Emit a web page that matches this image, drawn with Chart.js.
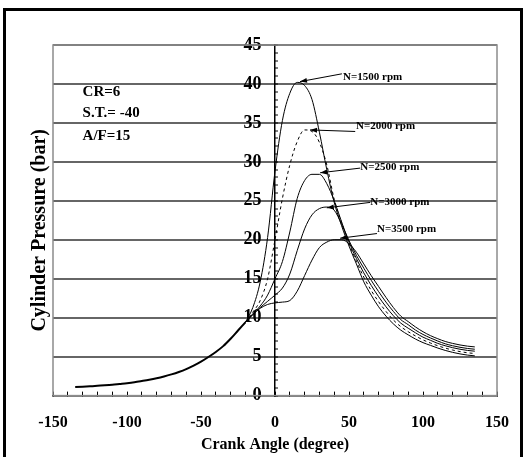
<!DOCTYPE html>
<html><head><meta charset="utf-8">
<script src="https://cdn.jsdelivr.net/npm/chart.js@4"></script>
<style>html,body{margin:0;padding:0;background:#fff}canvas{display:block}</style>
</head><body>
<canvas id="c" width="532" height="457"></canvas>
<script>
// ---- data ----
const compressionAngles = [-135,-130,-125,-120,-115,-110,-105,-100,-95,-90,-85,-80,-75,-70,-65,-60,-55,-50,-45,-40,-35,-30,-25,-20];
const compressionPressure = [1.1,1.15,1.2,1.25,1.32,1.4,1.5,1.6,1.72,1.87,2.03,2.22,2.45,2.72,3.03,3.4,3.85,4.35,4.95,5.6,6.35,7.3,8.35,9.4];

const combustionAngles = [-20,-15,-10,-5,0,5,10,15,20,25,30,35,40,45,50,55,60,65,70,75,80,85,90,95,100,105,110,115,120,125,130,135];
const p1500 = [9.4,11.3,14.6,20.3,28.8,35.3,38.8,40.2,39.8,38.0,33.8,29.0,24.8,21.8,19.2,16.9,14.6,12.9,11.4,10.2,9.2,8.4,7.8,7.25,6.8,6.45,6.1,5.8,5.55,5.35,5.2,5.1];
const p2000 = [9.4,10.7,12.2,15.0,20.0,25.3,29.6,32.6,34.1,33.9,32.5,29.6,25.2,22.2,19.5,17.25,15.2,13.5,12.05,10.8,9.7,8.85,8.2,7.65,7.15,6.75,6.4,6.1,5.85,5.65,5.5,5.4];
const p2500 = [9.4,10.5,11.5,12.9,15.0,17.2,21.0,25.3,27.6,28.4,28.4,27.2,25.0,22.3,19.7,17.6,15.75,14.15,12.7,11.4,10.25,9.3,8.65,8.05,7.5,7.1,6.7,6.4,6.15,5.95,5.8,5.7];
const p3000 = [9.4,10.4,11.3,12.1,12.9,13.8,15.6,18.6,21.4,23.2,24.0,24.2,23.8,22.0,19.9,18.0,16.35,14.8,13.35,12.0,10.8,9.75,9.1,8.4,7.85,7.4,7.0,6.65,6.4,6.2,6.05,5.95];
const p3500 = [9.4,10.4,11.2,11.7,11.9,12.0,12.2,13.4,15.4,17.4,19.0,19.7,20.0,20.0,19.5,18.4,16.9,15.4,14.0,12.6,11.3,10.2,9.5,8.8,8.2,7.7,7.3,6.95,6.7,6.5,6.35,6.25];

const seriesNames = ['N=1500 rpm','N=2000 rpm','N=2500 rpm','N=3000 rpm','N=3500 rpm'];
const conditionNotes = ['CR=6','S.T.= -40','A/F=15'];
const xTickStep = 10, xLabelStep = 50;
const yTickStep = 1, yLabelStep = 5;

// annotation anchors (in data units: crank angle, bar)
const noteAnchor = [[-130,39.0],[-130,36.3],[-130,33.3]];
const labelAnchor = [[46,40.9],[54.7,34.6],[57.6,29.3],[64.4,24.8],[68.9,21.4]];
const arrowFrom = [[45.2,41.3],[54.2,33.9],[57.6,29.2],[64.4,24.8],[68.9,20.8]];
const arrowTo = [[16.9,40.3],[23.7,34.1],[30.5,28.6],[35,24.1],[44,20.2]];

const FONT = "'Liberation Serif','Times New Roman',serif";
const pts = (xs, ys) => xs.map((x, i) => ({x, y: ys[i]}));

const decor = {
  id: 'decor',
  beforeDatasetsDraw(chart) {
    const {ctx, chartArea: a} = chart;
    ctx.save();
    ctx.strokeStyle = '#8c8c8c';
    ctx.lineWidth = 1.5;
    ctx.strokeRect(a.left, a.top, a.right - a.left, a.bottom - a.top);
    ctx.restore();
  },
  afterDraw(chart) {
    const {ctx} = chart;
    const xs = chart.scales.x, ys = chart.scales.y;
    const px = p => [xs.getPixelForValue(p[0]), ys.getPixelForValue(p[1])];
    ctx.save();
    ctx.fillStyle = '#000';
    ctx.strokeStyle = '#000';
    ctx.textBaseline = 'middle';
    ctx.textAlign = 'left';
    ctx.font = 'bold 15px ' + FONT;
    conditionNotes.forEach((t, i) => { const [x, y] = px(noteAnchor[i]); ctx.fillText(t, x, y); });
    ctx.font = 'bold 11px ' + FONT;
    seriesNames.forEach((t, i) => {
      const [tx, ty] = px(labelAnchor[i]);
      ctx.fillText(t, tx, ty);
      const [x1, y1] = px(arrowFrom[i]);
      const [x2, y2] = px(arrowTo[i]);
      ctx.lineWidth = 1;
      ctx.beginPath(); ctx.moveTo(x1, y1); ctx.lineTo(x2, y2); ctx.stroke();
      const ang = Math.atan2(y2 - y1, x2 - x1);
      const L = 7, W = 2.5;
      ctx.beginPath();
      ctx.moveTo(x2, y2);
      ctx.lineTo(x2 - L * Math.cos(ang) + W * Math.sin(ang), y2 - L * Math.sin(ang) - W * Math.cos(ang));
      ctx.lineTo(x2 - L * Math.cos(ang) - W * Math.sin(ang), y2 - L * Math.sin(ang) + W * Math.cos(ang));
      ctx.closePath(); ctx.fill();
    });
    // outer frame of the figure
    ctx.lineWidth = 3;
    ctx.strokeRect(4.5, 9.5, 517, 460);
    ctx.restore();
  }
};

const lineDs = (data, extra) => Object.assign({
  data, borderColor: '#000', borderWidth: 1, pointRadius: 0,
  cubicInterpolationMode: 'monotone', fill: false
}, extra || {});

new Chart(document.getElementById('c'), {
  type: 'line',
  data: {
    datasets: [
      lineDs(pts(compressionAngles, compressionPressure), {borderWidth: 2}),
      lineDs(pts(combustionAngles, p1500)),
      lineDs(pts(combustionAngles, p2000), {borderDash: [3, 3]}),
      lineDs(pts(combustionAngles, p2500)),
      lineDs(pts(combustionAngles, p3000)),
      lineDs(pts(combustionAngles, p3500))
    ]
  },
  options: {
    responsive: false,
    animation: false,
    events: [],
    layout: {padding: {left: 28, right: 35, top: 45, bottom: 3}},
    plugins: {legend: {display: false}, tooltip: {enabled: false}},
    scales: {
      x: {
        type: 'linear', position: 'bottom', min: -150, max: 150,
        ticks: {
          stepSize: xTickStep, autoSkip: false, maxRotation: 0, padding: 22, color: '#000',
          font: {family: FONT, size: 16, weight: 'bold'},
          callback: v => (v % xLabelStep === 0 ? String(v) : '')
        },
        grid: {drawOnChartArea: false, drawTicks: true, tickLength: -4, tickColor: '#000', tickWidth: 1},
        border: {display: true, color: '#000', width: 1.5},
        title: {display: true, text: 'Crank Angle (degree)', color: '#000',
          font: {family: FONT, size: 16, weight: 'bold'}, padding: {top: -20, bottom: 0}}
      },
      y: {
        type: 'linear', position: {x: 0}, min: 0, max: 45,
        ticks: {
          stepSize: yTickStep, autoSkip: false, color: '#000',
          font: {family: FONT, size: 18, weight: 'bold'},
          callback: v => (v % yLabelStep === 0 ? v + '   ' : '')
        },
        grid: {
          drawTicks: true, tickLength: -4, tickColor: '#000', tickWidth: 1,
          lineWidth: 2,
          color: c => (c.tick && c.tick.value % yLabelStep === 0 && c.tick.value > 0 ? '#666' : 'rgba(0,0,0,0)')
        },
        border: {display: true, color: '#000', width: 1.5}
      },
      yTitle: {
        type: 'linear', position: 'left', display: true, min: 0, max: 1,
        grid: {display: false, drawTicks: false},
        border: {display: false},
        ticks: {display: false},
        title: {display: true, text: 'Cylinder Pressure (bar)    ', color: '#000',
          font: {family: FONT, size: 20, weight: 'bold'}, padding: {top: 0, bottom: 1}}
      }
    }
  },
  plugins: [decor]
});
</script>
</body></html>
